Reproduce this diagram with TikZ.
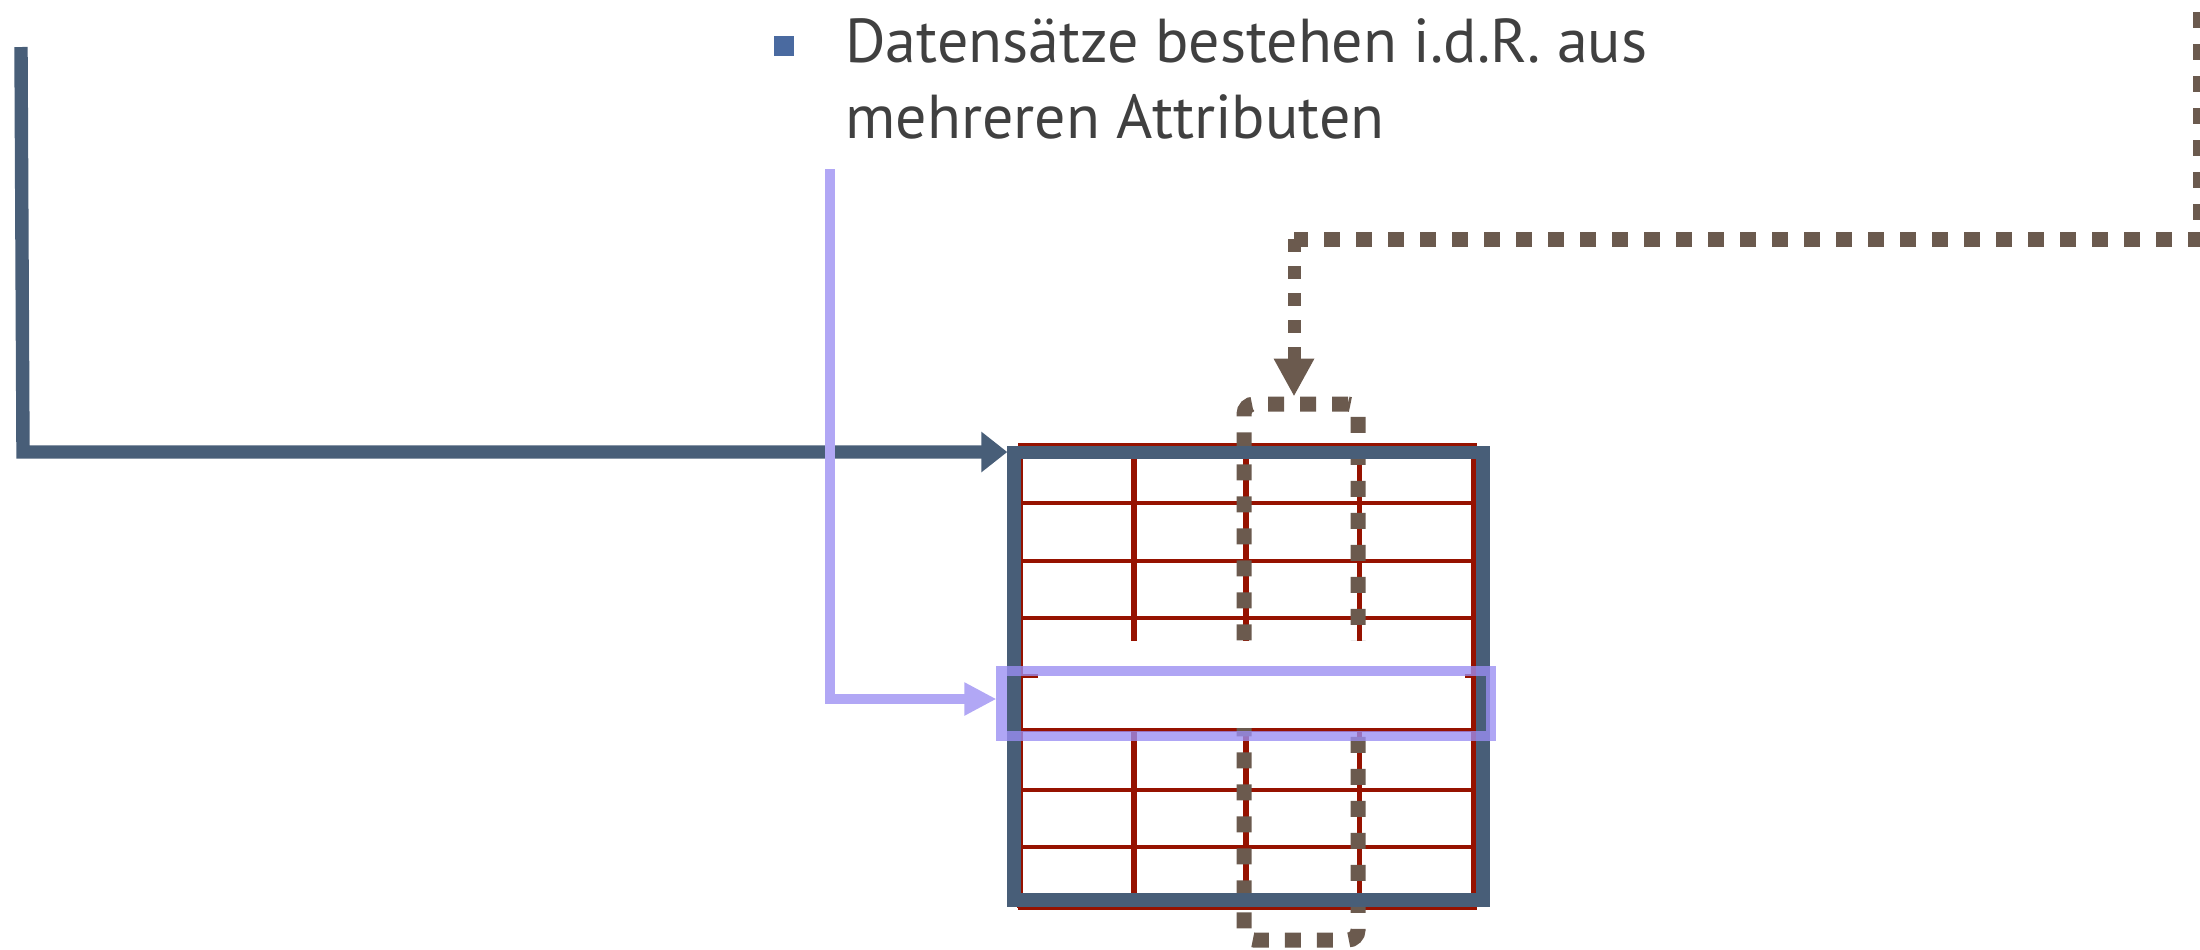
\documentclass[tikz,border=0pt]{standalone}
\usepackage{fontspec}
\setmainfont{PT Sans}
\usetikzlibrary{arrows.meta}
\definecolor{frameblue}{RGB}{72,94,120}
\definecolor{gridred}{RGB}{150,18,0}
\definecolor{dotbrown}{RGB}{107,90,78}
\definecolor{rowlav}{RGB}{154,142,242}
\definecolor{linelav}{RGB}{177,167,245}
\definecolor{textgray}{RGB}{64,64,64}
\definecolor{bulletblue}{RGB}{74,106,160}
\begin{document}
\begin{tikzpicture}[x=0.5pt,y=-0.5pt,
  gridv/.style={draw=gridred,line width=2.7pt},
  gridh/.style={draw=gridred,line width=2.3pt},
  dotline/.style={draw=dotbrown,line width=7.5pt,dash pattern=on 8pt off 8pt},
  bluepath/.style={draw=frameblue,line width=6.7pt},
  lavpath/.style={draw=linelav,line width=5.3pt},
  label/.style={anchor=base west,inner sep=0pt,text=textgray,font=\fontsize{31}{37}\selectfont}
]
\useasboundingbox (0,0) rectangle (2200,949);
% red grid
\foreach \yy in {445.5,503,561,618,730,790,847,907.5}
  \draw[gridh] (1018,\yy) -- (1476.5,\yy);
\foreach \xx in {1020,1474}
  \draw[gridv] (\xx,445.5) -- (\xx,907.5);
\foreach \xx in {1134,1246,1359.5}{
  \draw[gridv] (\xx,445.5) -- (\xx,641);
  \draw[gridv] (\xx,726) -- (\xx,907.5);
}
% dotted attribute column
\node[dotline,rounded corners=5pt,minimum width=57pt,minimum height=268pt,inner sep=0pt] (col) at (1301,672) {};
% blank middle row
\fill[white] (1024,641) rectangle (1471,727.5);
\draw[gridh] (1020,676) -- (1038,676);
\draw[gridh] (1465,676) -- (1474,676);
% table frame
\node[bluepath,minimum width=234.5pt,minimum height=223.75pt,inner sep=0pt] (table) at (1248.5,676.25) {};
% blue connector
\coordinate (bstart) at (21,47);
\coordinate (bcorner) at (23,452);
\draw[bluepath,-{Triangle[length=13pt,width=19.5pt]}] (bstart) -- (bcorner) -- (bcorner -| table.west);
% row highlight
\node[draw=rowlav,draw opacity=0.79,line width=5.25pt,minimum width=244.65pt,minimum height=32.5pt,inner sep=0pt] (row) at (1246.35,703.5) {};
% lavender connector
\coordinate (pstart) at (830,169);
\coordinate (pcorner) at (830,699);
\draw[lavpath,-{Triangle[length=16pt,width=15.5pt]}] (pstart) -- (pcorner) -- (pcorner -| row.west);
% brown connector
\coordinate (cstart) at (2200.5,12);
\coordinate (cbend) at (1294,239);
\draw[dotline] (cstart) |- (cbend);
\draw[dotline,line width=6.5pt,dash pattern=on 6.5pt off 7pt,-{Triangle[length=19pt,width=19pt]}] (cbend) -- (cbend |- col.north);
% text
\node[fill=bulletblue,minimum size=10pt,inner sep=0pt] (bul) at (784,46) {};
\node[label] (t1) at (845,62.7) {Datensätze bestehen i.d.R. aus};
\node[label] (t2) at (845,138.3) {mehreren Attributen};
\end{tikzpicture}
\end{document}
